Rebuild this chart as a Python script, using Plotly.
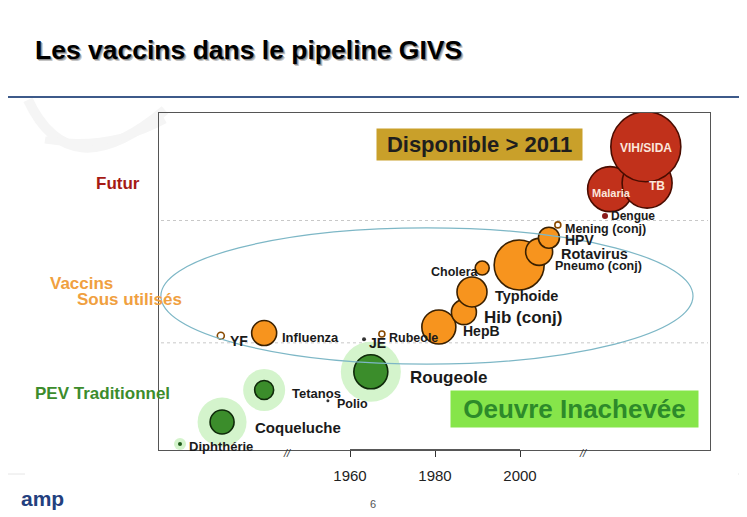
import plotly.graph_objects as go

# the page body has an 8px margin, so the figure is drawn 8px in from the top-left
OFF = 8
W, H = 747 - OFF, 517 - OFF

# ---------------- data ----------------
# "Futur" (red)
red_names = ["Malaria", "TB", "VIH/SIDA"]
red_year = [2021.2, 2029.9, 2029.6]
red_level = [7.74, 7.92, 9.00]
red_size = [45, 50, 70]

# under-used vaccines (orange), drawn in this order
org_names = ["Influenza", "HepB", "Hib (conj)", "Typhoide", "Cholera", "Pneumo (conj)", "Rotavirus", "HPV"]
org_year = [1939.8, 1980.9, 1986.8, 1988.7, 1991.1, 1999.8, 2004.5, 2006.8]
org_level = [3.47, 3.65, 4.09, 4.69, 5.40, 5.49, 5.88, 6.30]
org_size = [25, 34, 25, 30, 14, 50, 27, 21]

# small open circles
open_names = ["YF", "Rubeole", "Mening (conj)"]
open_year = [1929.6, 1967.5, 2008.9]
open_level = [3.39, 3.44, 6.68]

# small dots
dot_names = ["Dengue", "JE", "Polio", "Diphthérie"]
dot_year = [2020.0, 1963.3, 1954.8, 1920.0]
dot_level = [6.94, 3.29, 1.46, 0.18]
dot_size = [6, 4, 3, 4]

# traditional EPI (green)
grn_names = ["Rougeole", "Tetanos", "Coqueluche"]
grn_year = [1964.9, 1939.8, 1929.9]
grn_level = [2.32, 1.78, 0.83]
grn_size = [34, 19, 24]
halo_size = [60, 42, 49]

tick_years = [1960, 1980, 2000]
tier_bounds = [3.18, 6.81]
break_years = [1945.2, 2014.8]
ellipse_box = [1915.5, 2040.7, 2.55, 6.59]

# --------------- helpers --------------
def px(x):
    return (x - OFF) / W


def py(y):
    return 1 - (y - OFF) / H


FONT = "Liberation Sans, Arial, sans-serif"
fig = go.Figure()

# halos
fig.add_trace(go.Scatter(
    x=grn_year + [dot_year[3]], y=grn_level + [dot_level[3]], mode="markers",
    marker=dict(size=halo_size + [12], color="#D4F4CC", opacity=1, line=dict(width=0)),
    hoverinfo="skip", showlegend=False))

# red bubbles
fig.add_trace(go.Scatter(
    x=red_year, y=red_level, mode="markers",
    marker=dict(size=red_size, color="#C1311B", opacity=1, line=dict(color="#4a0c00", width=1.6)),
    text=red_names, showlegend=False))

# orange bubbles
fig.add_trace(go.Scatter(
    x=org_year, y=org_level, mode="markers",
    marker=dict(size=org_size, color="#F7941E", opacity=1, line=dict(color="#3a2000", width=1.6)),
    text=org_names, showlegend=False))

# open circles
fig.add_trace(go.Scatter(
    x=open_year, y=open_level, mode="markers",
    marker=dict(size=[7, 6, 6], color="#ffffff", opacity=1, line=dict(color="#8a4a00", width=1.6)),
    text=open_names, showlegend=False))

# green bubbles
fig.add_trace(go.Scatter(
    x=grn_year, y=grn_level, mode="markers",
    marker=dict(size=grn_size, color="#3B8D2B", opacity=1, line=dict(color="#0f2a0a", width=1.6)),
    text=grn_names, showlegend=False))

# dots
fig.add_trace(go.Scatter(
    x=dot_year, y=dot_level, mode="markers",
    marker=dict(size=dot_size, color=["#8B1A1A", "#333333", "#333333", "#1f5a1a"], opacity=1,
                line=dict(width=0)),
    text=dot_names, showlegend=False))

ann = []

# labels next to points: name -> (dx right, shift up, font size, anchor)
label_style = {
    "Dengue": (4, 0, 12, "left"),
    "Mening (conj)": (5, -4, 12.5, "left"),
    "HPV": (14, -2, 14, "left"),
    "Rotavirus": (20, -2, 14.5, "left"),
    "Pneumo (conj)": (34, -1, 12.5, "left"),
    "Cholera": (-1, -4, 12.5, "right"),
    "Typhoide": (21, -4, 14.5, "left"),
    "Hib (conj)": (18, -5, 17, "left"),
    "HepB": (22, -4, 14, "left"),
    "Rubeole": (5, -4, 12.5, "left"),
    "JE": (3, -4, 14, "left"),
    "Influenza": (16, -4, 13, "left"),
    "YF": (7, -5, 14, "left"),
    "Rougeole": (37, -6, 17, "left"),
    "Tetanos": (26, -3, 13, "left"),
    "Polio": (7, -3, 12.5, "left"),
    "Coqueluche": (31, -5, 15, "left"),
    "Diphthérie": (7, -3, 13, "left"),
}
all_pts = {}
for n, x, y in zip(org_names, org_year, org_level):
    all_pts[n] = (x, y)
for n, x, y in zip(open_names, open_year, open_level):
    all_pts[n] = (x, y)
for n, x, y in zip(dot_names, dot_year, dot_level):
    all_pts[n] = (x, y)
for n, x, y in zip(grn_names, grn_year, grn_level):
    all_pts[n] = (x, y)

for n, (dx, up, fs, anc) in label_style.items():
    x, y = all_pts[n]
    ann.append(dict(x=x, y=y, xref="x", yref="y", text="<b>%s</b>" % n, showarrow=False,
                    xanchor=anc, yanchor="middle", xshift=dx, yshift=up,
                    font=dict(family=FONT, size=fs, color="#1a1a1a")))

# white labels inside red bubbles
red_lab = {"Malaria": (1, -4, 11), "TB": (10, -3, 12), "VIH/SIDA": (0, -1, 12)}
for n, x, y in zip(red_names, red_year, red_level):
    dx, up, fs = red_lab[n]
    ann.append(dict(x=x, y=y, xref="x", yref="y", text="<b>%s</b>" % n, showarrow=False,
                    xanchor="center", yanchor="middle", xshift=dx, yshift=up,
                    font=dict(family=FONT, size=fs, color="#fbe6dc")))

# break marks on x axis
for b in break_years:
    ann.append(dict(x=b, y=0, xref="x", yref="y", text="<i>//</i>", showarrow=False,
                    xanchor="center", yanchor="middle", yshift=-3,
                    font=dict(family=FONT, size=11, color="#333")))

# title with soft shadow
for off, col in ((2.0, "#c4c4c4"), (1.2, "#8a8a8a"), (0, "#000000")):
    ann.append(dict(x=px(33 + off), y=py(50 + off), xref="paper", yref="paper",
                    text="<b>Les vaccins dans le pipeline GIVS</b>", showarrow=False,
                    xanchor="left", yanchor="middle",
                    font=dict(family=FONT, size=26.5, color=col)))

# tier labels on left
ann.append(dict(x=px(94), y=py(183), xref="paper", yref="paper", text="<b>Futur</b>",
                showarrow=False, xanchor="left", yanchor="middle",
                font=dict(family=FONT, size=17, color="#A51A14")))
ann.append(dict(x=px(48), y=py(283), xref="paper", yref="paper", text="<b>Vaccins</b>",
                showarrow=False, xanchor="left", yanchor="middle",
                font=dict(family=FONT, size=17, color="#F0A040")))
ann.append(dict(x=px(75), y=py(299), xref="paper", yref="paper", text="<b>Sous utilisés</b>",
                showarrow=False, xanchor="left", yanchor="middle",
                font=dict(family=FONT, size=17, color="#F0A040")))
ann.append(dict(x=px(33), y=py(393), xref="paper", yref="paper", text="<b>PEV Traditionnel</b>",
                showarrow=False, xanchor="left", yanchor="middle",
                font=dict(family=FONT, size=17, color="#3C8C2C")))

# boxed callouts
ann.append(dict(x=px(479.5), y=py(144.5), xref="paper", yref="paper",
                text="<b>Disponible > 2011</b>", showarrow=False,
                xanchor="center", yanchor="middle", bgcolor="#C9A02A",
                width=199, height=25, borderpad=3,
                font=dict(family=FONT, size=22, color="#1e1e1e")))
ann.append(dict(x=px(574.5), y=py(409), xref="paper", yref="paper",
                text="<b>Oeuvre Inachevée</b>", showarrow=False,
                xanchor="center", yanchor="middle", bgcolor="#86E54A",
                width=241, height=30, borderpad=3,
                font=dict(family=FONT, size=26, color="#2D8A2A")))

# footer
ann.append(dict(x=px(373), y=py(504), xref="paper", yref="paper", text="6", showarrow=False,
                xanchor="center", yanchor="middle", font=dict(family=FONT, size=11, color="#555")))
ann.append(dict(x=px(19), y=py(498), xref="paper", yref="paper", text="<b>amp</b>", showarrow=False,
                xanchor="left", yanchor="middle", font=dict(family=FONT, size=21, color="#23407E")))

shapes = []
# faint watermark strokes (top-left globe)
def pth(points):
    d = "M %.4f,%.4f" % (px(points[0][0]), py(points[0][1]))
    d += " Q %.4f,%.4f %.4f,%.4f" % (px(points[1][0]), py(points[1][1]), px(points[2][0]), py(points[2][1]))
    return d


for pts_, wd in (([(28, 100), (70, 190), (165, 110)], 10), ([(45, 140), (110, 150), (165, 120)], 7)):
    shapes.append(dict(type="path", xref="paper", yref="paper", path=pth(pts_),
                       line=dict(color="#f5f5f5", width=wd), layer="below"))
# header rule
shapes.append(dict(type="line", xref="paper", yref="paper", x0=0, x1=1, y0=py(97), y1=py(97),
                   line=dict(color="#3D5A8A", width=2)))
# faint footer rules
for a, b in ((8, 25), (738, 747)):
    shapes.append(dict(type="line", xref="paper", yref="paper", x0=px(a), x1=px(b),
                       y0=py(474), y1=py(474), line=dict(color="#e6e6e6", width=1)))
# tier dotted lines
for t in tier_bounds:
    shapes.append(dict(type="line", xref="paper", yref="y", x0=px(161), x1=px(708), y0=t, y1=t,
                       line=dict(color="#c8c8c8", width=1, dash="dot"), layer="below"))
# ellipse
shapes.append(dict(type="circle", xref="x", yref="y", x0=ellipse_box[0], x1=ellipse_box[1],
                   y0=ellipse_box[2], y1=ellipse_box[3], line=dict(color="#7DB7C6", width=1.2)))
# R-style axis segment
shapes.append(dict(type="line", xref="x", yref="y", x0=tick_years[0], x1=tick_years[-1], y0=0, y1=0,
                   line=dict(color="#222", width=1.6)))

fig.update_layout(
    width=W, height=H, margin=dict(l=0, r=0, t=0, b=0),
    paper_bgcolor="white", plot_bgcolor="rgba(0,0,0,0)",
    annotations=ann, shapes=shapes, showlegend=False,
    xaxis=dict(domain=[px(159), px(710)], range=[1915.06, 2044.7], showgrid=False, zeroline=False,
               showline=True, mirror=True, linecolor="#555", linewidth=1,
               tickvals=tick_years, ticks="outside", ticklen=6, tickcolor="#333",
               ticklabelstandoff=6, tickfont=dict(family=FONT, size=15, color="#222")),
    yaxis=dict(domain=[py(450), py(113)], range=[0, 10], showgrid=False, zeroline=False,
               showline=True, mirror=True, linecolor="#555", linewidth=1, showticklabels=False,
               ticks=""),
)

fig.write_html("out.html")
